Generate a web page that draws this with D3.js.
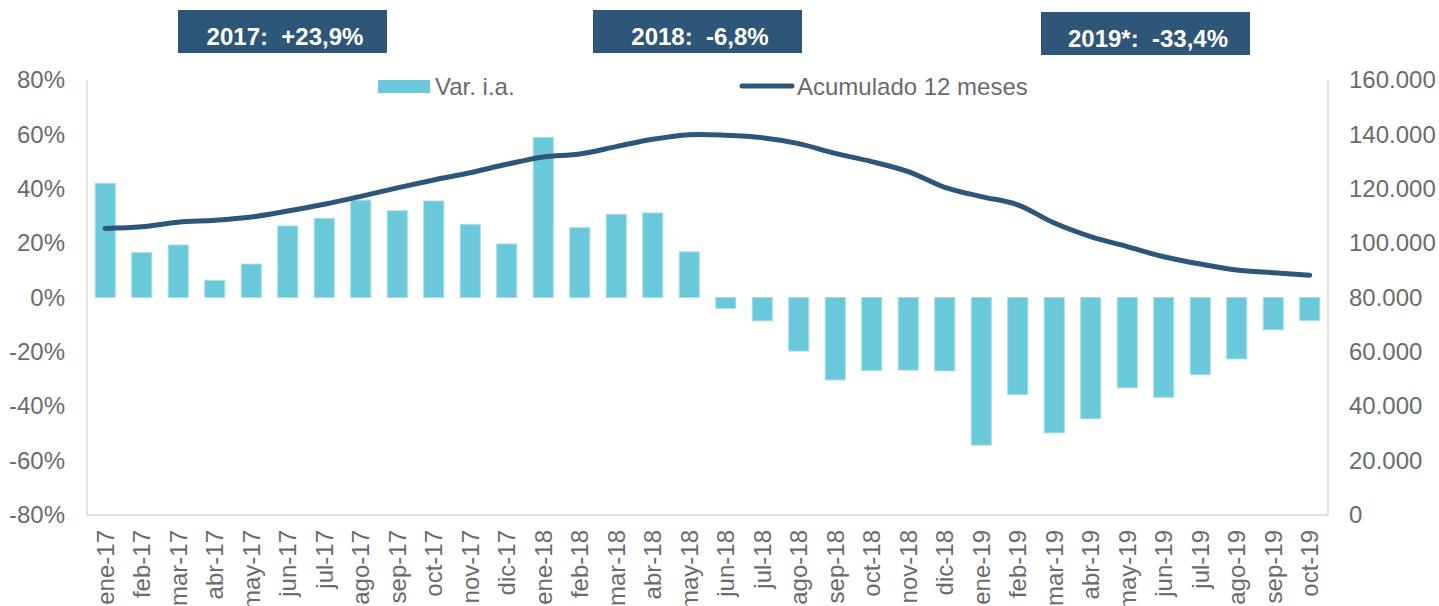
<!DOCTYPE html>
<html>
<head>
<meta charset="utf-8">
<script src="https://cdn.jsdelivr.net/npm/d3@7"></script>
<style>
  body { margin: 0; background: #fff; }
  svg { display: block; font-family: "Liberation Sans", Arial, sans-serif; }
</style>
</head>
<body>
<svg id="chart" width="1439" height="606"></svg>
<script>
const months = ["ene-17","feb-17","mar-17","abr-17","may-17","jun-17","jul-17","ago-17","sep-17","oct-17","nov-17","dic-17",
  "ene-18","feb-18","mar-18","abr-18","may-18","jun-18","jul-18","ago-18","sep-18","oct-18","nov-18","dic-18",
  "ene-19","feb-19","mar-19","abr-19","may-19","jun-19","jul-19","ago-19","sep-19","oct-19"];

// Var. i.a. (%)
const varIA = [42.0, 16.5, 19.3, 6.3, 12.3, 26.3, 29.1, 35.8, 31.9, 35.5, 26.9, 19.7,
  58.9, 25.7, 30.6, 31.1, 16.8, -4.0, -8.6, -19.7, -30.3, -26.9, -26.7, -27.0,
  -54.3, -35.7, -49.8, -44.6, -33.2, -36.7, -28.4, -22.6, -11.9, -8.5];

// Acumulado 12 meses
const acum = [105400, 106000, 107700, 108400, 109600, 111800, 114300, 117200, 120300, 123200, 125900, 129000,
  131700, 132800, 135500, 138200, 139900, 139700, 138800, 136600, 133000, 130000, 126300, 120500,
  117100, 114100, 107400, 102400, 98700, 95000, 92300, 90100, 89100, 88200];

const leftTicks = [-80, -60, -40, -20, 0, 20, 40, 60, 80];
const rightTicks = [0, 20000, 40000, 60000, 80000, 100000, 120000, 140000, 160000];
const annotations = ["2017:  +23,9%", "2018:  -6,8%", "2019*:  -33,4%"];
const seriesNames = ["Var. i.a.", "Acumulado 12 meses"];

const barColor = "#69c8da";
const lineColor = "#2d5679";
const textColor = "#6b6b6b";
const axisColor = "#d9d9d9";
const fontSize = 24;

const svg = d3.select("#chart");
const plot = { left: 87, right: 1328, top: 80, bottom: 515 };

const x = d3.scaleBand()
  .domain(months)
  .range([plot.left, plot.right])
  .paddingInner(0.45)
  .paddingOuter(0.225);

const yL = d3.scaleLinear().domain([-80, 80]).range([plot.bottom, plot.top]);
const yR = d3.scaleLinear().domain([0, 160000]).range([plot.bottom, plot.top]);

const es = d3.formatLocale({ decimal: ",", thousands: ".", grouping: [3], currency: ["", ""] });
const fmtR = es.format(",.0f");

// axis lines
svg.append("path")
  .attr("d", `M${plot.left},${plot.top}V${plot.bottom}H${plot.right}V${plot.top}`)
  .attr("fill", "none")
  .attr("stroke", axisColor)
  .attr("stroke-width", 1.5);

// left axis
svg.append("g")
  .attr("transform", `translate(${plot.left},0)`)
  .call(d3.axisLeft(yL).tickValues(leftTicks).tickSize(0).tickPadding(22).tickFormat(d => d + "%"))
  .call(g => g.select(".domain").remove())
  .selectAll("text")
  .attr("font-size", fontSize)
  .attr("font-family", "Liberation Sans, Arial, sans-serif")
  .attr("fill", textColor);

// right axis
svg.append("g")
  .attr("transform", `translate(${plot.right},0)`)
  .call(d3.axisRight(yR).tickValues(rightTicks).tickSize(0).tickPadding(21).tickFormat(fmtR))
  .call(g => g.select(".domain").remove())
  .selectAll("text")
  .attr("font-size", fontSize)
  .attr("font-family", "Liberation Sans, Arial, sans-serif")
  .attr("fill", textColor);

// bottom axis
svg.append("g")
  .attr("transform", `translate(0,${plot.bottom})`)
  .call(d3.axisBottom(x).tickSize(0))
  .call(g => g.select(".domain").remove())
  .selectAll("text")
  .attr("transform", "rotate(-90)")
  .attr("x", -15)
  .attr("y", 0)
  .attr("dy", "0.36em")
  .style("text-anchor", "end")
  .attr("font-size", fontSize)
  .attr("font-family", "Liberation Sans, Arial, sans-serif")
  .attr("fill", textColor);

// bars
svg.append("g")
  .selectAll("rect")
  .data(months)
  .enter()
  .append("rect")
  .attr("x", d => x(d))
  .attr("width", x.bandwidth())
  .attr("y", (d, i) => yL(Math.max(0, varIA[i])))
  .attr("height", (d, i) => Math.abs(yL(varIA[i]) - yL(0)))
  .attr("fill", barColor)
  .attr("stroke", "#a6dde8")
  .attr("stroke-width", 1);

// line
const line = d3.line()
  .x((d, i) => x(months[i]) + x.bandwidth() / 2)
  .y(d => yR(d))
  .curve(d3.curveCatmullRom.alpha(0.5));

svg.append("path")
  .datum(acum)
  .attr("d", line)
  .attr("fill", "none")
  .attr("stroke", lineColor)
  .attr("stroke-width", 5)
  .attr("stroke-linecap", "round")
  .attr("stroke-linejoin", "round");

// legend
const legend = svg.append("g").attr("font-size", fontSize).attr("fill", textColor);
legend.append("rect").attr("x", 378).attr("y", 80).attr("width", 52).attr("height", 13).attr("fill", barColor);
legend.append("text").attr("x", 435).attr("y", 95).text(seriesNames[0]);
legend.append("line").attr("x1", 742).attr("x2", 792).attr("y1", 86).attr("y2", 86)
  .attr("stroke", lineColor).attr("stroke-width", 5).attr("stroke-linecap", "round");
legend.append("text").attr("x", 797).attr("y", 95).text(seriesNames[1]);

// annotation boxes
const boxPos = [{ x: 178, y: 10 }, { x: 593, y: 10 }, { x: 1041, y: 12 }];
const boxes = svg.append("g")
  .selectAll("g")
  .data(annotations)
  .enter()
  .append("g")
  .attr("transform", (d, i) => `translate(${boxPos[i].x},${boxPos[i].y})`);

boxes.append("rect")
  .attr("width", 209)
  .attr("height", 43)
  .attr("fill", "#2d5678");

boxes.append("text")
  .attr("x", 107)
  .attr("y", 35)
  .attr("text-anchor", "middle")
  .attr("font-size", fontSize)
  .attr("font-weight", "bold")
  .attr("fill", "#fff")
  .style("white-space", "pre")
  .text(d => d);
</script>
</body>
</html>
